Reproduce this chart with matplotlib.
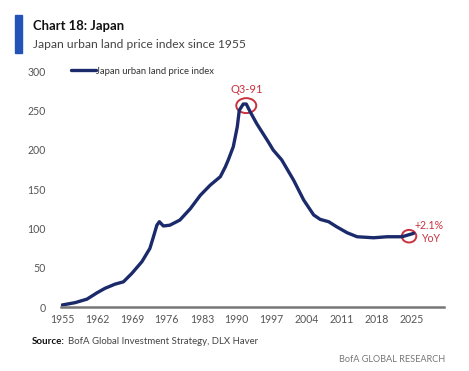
import matplotlib
matplotlib.use("Agg")
import matplotlib.pyplot as plt
from matplotlib.patches import Ellipse

plt.rcParams['font.family'] = ['Lato', 'DejaVu Sans']

# Japan urban land price index
years = [1955.0, 1957.6, 1960.0, 1962.0, 1963.6, 1965.6, 1967.3, 1969.0, 1971.0,
         1972.6, 1973.3, 1974.0, 1974.5, 1975.3, 1976.6, 1978.6, 1980.7, 1982.7,
         1984.7, 1986.7, 1987.7, 1988.3, 1989.3, 1990.1, 1990.5, 1991.3, 1991.9,
         1992.7, 1994.0, 1996.3, 1997.3, 1999.0, 2001.4, 2003.4, 2005.4, 2006.7,
         2008.4, 2010.0, 2012.1, 2014.1, 2017.4, 2020.1, 2023.1, 2025.4]
index = [2.5, 5.5, 10, 18, 23.7, 29, 32, 42.8, 57.6,
         74.5, 89, 104, 108.4, 103, 104, 110.5, 125, 142,
         155, 165.6, 178, 187, 203.7, 229, 250, 258, 258,
         248, 233, 210, 199.5, 187, 161, 136, 117, 111.4,
         108.4, 102, 94.4, 89.3, 88, 89.3, 89.3, 93.6]

xticks = [1955, 1962, 1969, 1976, 1983, 1990, 1997, 2004, 2011, 2018, 2025]
yticks = [0, 50, 100, 150, 200, 250, 300]

navy = '#1b2a6b'
red = '#c8323f'
grey = '#555555'

fig = plt.figure(figsize=(4.69, 3.71), dpi=100)
ax = fig.add_axes([61 / 469, (371 - 307) / 371, (444 - 61) / 469, 236 / 371])

ax.plot(years, index, color=navy, lw=2.4, solid_capstyle='round',
        solid_joinstyle='round', label='Japan urban land price index')

ax.set_xlim(1954.8, 2031.5)
ax.set_ylim(0, 300)
ax.set_xticks(xticks)
ax.set_yticks(yticks)
ax.tick_params(axis='both', length=0, labelsize=7.6, colors=grey)
ax.tick_params(axis='x', pad=5)
ax.tick_params(axis='y', pad=11)
for s in ['top', 'right', 'left']:
    ax.spines[s].set_visible(False)
ax.spines['bottom'].set_color('#777777')
ax.spines['bottom'].set_linewidth(1.8)

leg = ax.legend(loc='upper left', bbox_to_anchor=(0.015, 1.035), frameon=False,
                fontsize=6.8, handlelength=2.7, handletextpad=0.05,
                borderaxespad=0)
for t in leg.get_texts():
    t.set_color('#333333')

# annotations
ax.add_patch(Ellipse((1991.9, 256), 4.0, 19, fill=False, ec=red, lw=1.4, clip_on=False))
ax.text(1991.9, 270, 'Q3-91', color=red, fontsize=8, ha='center', va='bottom')
ax.add_patch(Ellipse((2024.5, 90), 2.9, 16, fill=False, ec=red, lw=1.4, clip_on=False))
ax.text(2028.6, 103, '+2.1%', color=red, fontsize=7.6, ha='center', va='center')
ax.text(2028.8, 87.5, 'YoY', color=red, fontsize=7.6, ha='center', va='center')

# header
fig.patches.append(plt.Rectangle((15 / 469, 1 - 53 / 371), 7 / 469, 38 / 371,
                                 transform=fig.transFigure, color='#2453b8'))
fig.text(33 / 469, 1 - 26 / 371, 'Chart 18: Japan', fontsize=9.4, weight='bold',
         color='#111111', va='center')
fig.text(33 / 469, 1 - 44 / 371, 'Japan urban land price index since 1955',
         fontsize=8.7, color='#444444', va='center')

# footer
src = fig.text(32 / 469, 1 - 342 / 371, 'Source:', fontsize=7.0, weight='bold',
               color='#111111', va='center')
fig.canvas.draw()
bb = src.get_window_extent()
fig.text((bb.x1 + 3) / 469, 1 - 342 / 371, 'BofA Global Investment Strategy, DLX Haver',
         fontsize=6.9, color='#444444', va='center')
fig.text(445 / 469, 1 - 360 / 371, 'BofA GLOBAL RESEARCH', fontsize=6.6,
         color='#777777', ha='right', va='center')

fig.savefig('out.png', dpi=100)
